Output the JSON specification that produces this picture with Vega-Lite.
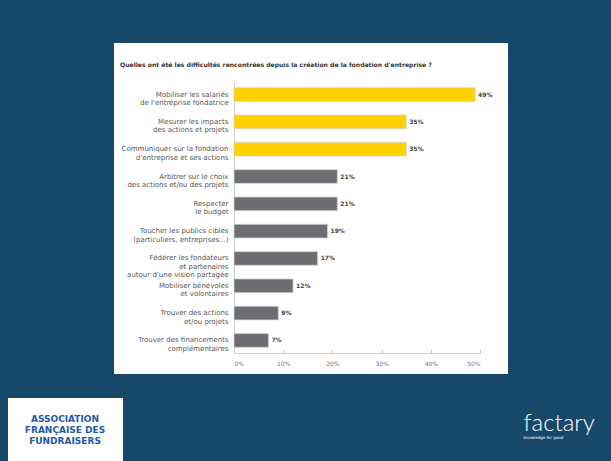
{
  "$schema": "https://vega.github.io/schema/vega-lite/v6.json",
  "autosize": {"type": "none"},
  "padding": {"left": 114, "top": 43, "right": 103, "bottom": 87},
  "width": 394,
  "height": 331,
  "background": "#17486a",
  "title": {
    "text": "Quelles ont été les difficultés rencontrées depuis la création de la fondation d'entreprise ?",
    "anchor": "start",
    "frame": "group",
    "offset": -28,
    "dx": 6,
    "baseline": "middle",
    "font": "DejaVu Sans",
    "fontSize": 6.1,
    "fontWeight": "bold",
    "color": "#333333"
  },
  "data": {
    "values": [
      {"difficulte": "Mobiliser les salariés|de l'entreprise fondatrice", "part": 0.49, "groupe": "principale"},
      {"difficulte": "Mesurer les impacts|des actions et projets", "part": 0.35, "groupe": "principale"},
      {"difficulte": "Communiquer sur la fondation|d'entreprise et ses actions", "part": 0.35, "groupe": "principale"},
      {"difficulte": "Arbitrer sur le choix|des actions et/ou des projets", "part": 0.21, "groupe": "secondaire"},
      {"difficulte": "Respecter |le budget", "part": 0.21, "groupe": "secondaire"},
      {"difficulte": "Toucher les publics cibles|(particuliers, entreprises...)", "part": 0.19, "groupe": "secondaire"},
      {"difficulte": "Fédérer les fondateurs|et partenaires|autour d'une vision partagée", "part": 0.17, "groupe": "secondaire"},
      {"difficulte": "Mobiliser bénévoles|et volontaires", "part": 0.12, "groupe": "secondaire"},
      {"difficulte": "Trouver des actions|et/ou projets", "part": 0.09, "groupe": "secondaire"},
      {"difficulte": "Trouver des financements|complémentaires", "part": 0.07, "groupe": "secondaire"}
    ]
  },
  "encoding": {
    "y": {
      "field": "difficulte",
      "type": "nominal",
      "sort": null,
      "scale": {"range": [39, 310], "paddingInner": 0.5, "paddingOuter": 0.21},
      "axis": {
        "orient": "left",
        "offset": -120,
        "ticks": false,
        "domain": true,
        "domainColor": "#cccccc",
        "labelPadding": 6,
        "labelAlign": "right",
        "labelBaseline": "middle",
        "labelExpr": "split(datum.label, '|')",
        "labelFont": "DejaVu Sans",
        "labelFontSize": 7,
        "labelLineHeight": 8.5,
        "labelColor": "#555555",
        "labelLimit": 200,
        "title": "factary",
        "titleAngle": 0,
        "titleX": 289,
        "titleY": 387,
        "titleAlign": "left",
        "titleBaseline": "alphabetic",
        "titleFont": "Lato",
        "titleFontWeight": 300,
        "titleFontSize": 24,
        "titleColor": "#ffffff"
      }
    },
    "x": {
      "field": "part",
      "type": "quantitative",
      "scale": {"domain": [0, 0.5], "range": [120, 366], "nice": false, "zero": true},
      "axis": {
        "orient": "bottom",
        "offset": -21,
        "values": [0, 0.1, 0.2, 0.3, 0.4, 0.5],
        "format": ".0%",
        "grid": false,
        "domainColor": "#cccccc",
        "tickColor": "#cccccc",
        "tickSize": -4,
        "labelPadding": 11,
        "labelFont": "DejaVu Sans",
        "labelFontSize": 6,
        "labelColor": "#777777",
        "title": "knowledge for good",
        "titleX": 409,
        "titleY": 84,
        "titleAlign": "left",
        "titleAnchor": "start",
        "titleBaseline": "middle",
        "titleFont": "DejaVu Sans",
        "titleFontWeight": "normal",
        "titleFontSize": 4,
        "titleColor": "#ffffff"
      }
    }
  },
  "layer": [
    {
      "mark": {"type": "bar", "stroke": "#d0d0d0", "strokeWidth": 0.8},
      "encoding": {
        "color": {
          "field": "groupe",
          "type": "nominal",
          "scale": {"domain": ["principale", "secondaire"], "range": ["#FFD200", "#6D6E71"]},
          "legend": {
            "orient": "none",
            "legendX": -106,
            "legendY": 355,
            "fillColor": "#ffffff",
            "padding": 17,
            "title": ["ASSOCIATION", "FRANÇAISE DES", "FUNDRAISERS"],
            "titleAnchor": "middle",
            "titleAlign": "center",
            "titleColor": "#1d5aa6",
            "titleFont": "DejaVu Sans",
            "titleFontSize": 9,
            "titleFontWeight": "bold",
            "titleLineHeight": 11,
            "labelExpr": "''",
            "symbolSize": 0,
            "symbolOpacity": 0,
            "rowPadding": 0
          }
        }
      }
    },
    {
      "mark": {"type": "text", "align": "left", "baseline": "middle", "dx": 3, "font": "DejaVu Sans", "fontSize": 6, "fontWeight": "bold", "color": "#444444"},
      "encoding": {
        "text": {"field": "part", "type": "quantitative", "format": ".0%"}
      }
    }
  ],
  "config": {
    "view": {"fill": "#ffffff", "stroke": null}
  }
}
